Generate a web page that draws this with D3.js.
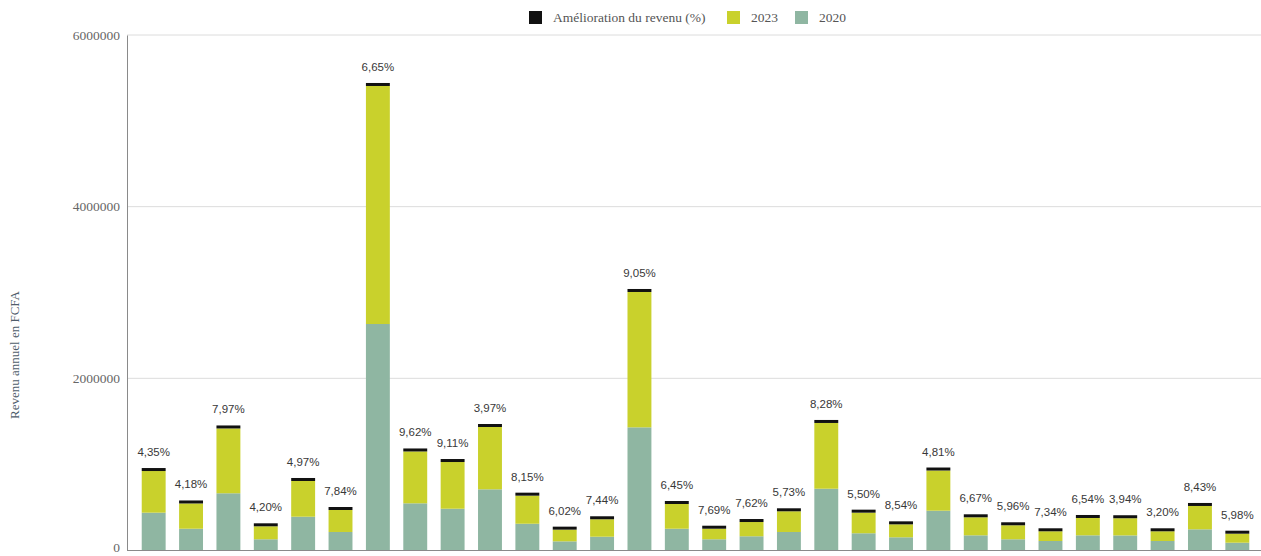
<!DOCTYPE html>
<html>
<head>
<meta charset="utf-8">
<script src="https://cdn.jsdelivr.net/npm/d3@7"></script>
<style>
  body { margin: 0; background: #fff; }
  svg { display: block; }
  .y.axis text { font-family: "Liberation Serif", serif; font-size: 13.5px; fill: #666; }
  .y.axis .domain { stroke: #8a8a8a; }
  .grid line { stroke: #dcdcdc; }
  .bar-label { font-family: "Liberation Sans", Arial, sans-serif; font-size: 11.5px; fill: #383838; }
  .legend text { font-family: "Liberation Serif", serif; font-size: 13.5px; fill: #555; }
</style>
</head>
<body>
<div id="chart"></div>
<script>
// one entry per bar, left to right
var categories = d3.range(1, 31).map(function(i){ return "B" + i; });

var rev2020 = [435000, 248000, 661000, 125000, 388000, 210000, 2633000, 544000, 481000, 707000,
               306000, 101000, 155000, 1429000, 248000, 125000, 160000, 210000, 714000, 195000,
               148000, 458000, 171000, 125000, 105000, 171000, 170000, 105000, 241000, 85000];

var rev2023 = [485000, 294000, 755000, 151000, 416000, 256000, 2773000, 604000, 544000, 726000,
               327000, 136000, 203000, 1577000, 288000, 123000, 166000, 241000, 766000, 240000,
               151000, 468000, 210000, 163000, 113000, 202000, 200000, 113000, 272000, 105000];

var improvement = [4.35, 4.18, 7.97, 4.20, 4.97, 7.84, 6.65, 9.62, 9.11, 3.97,
                   8.15, 6.02, 7.44, 9.05, 6.45, 7.69, 7.62, 5.73, 8.28, 5.50,
                   8.54, 4.81, 6.67, 5.96, 7.34, 6.54, 3.94, 3.20, 8.43, 5.98];

var yTicks = [0, 2000000, 4000000, 6000000];

var seriesNames = ["Amélioration du revenu (%)", "2023", "2020"];
var seriesColors = ["#111111", "#c9d12c", "#8fb6a2"];

var W = 1261, H = 556;
var plot = {left: 127, right: 1261, top: 35, bottom: 550};

var svg = d3.select("#chart").append("svg")
  .attr("width", W)
  .attr("height", H);

var x = d3.scaleBand()
  .domain(categories)
  .range([135, 1256])
  .paddingInner(0.36)
  .paddingOuter(0.18);

var y = d3.scaleLinear()
  .domain([0, 6000000])
  .range([plot.bottom, plot.top]);

// gridlines
svg.append("g")
  .attr("class", "grid")
  .selectAll("line")
  .data(yTicks.slice(1))
  .enter()
  .append("line")
    .attr("x1", plot.left)
    .attr("x2", plot.right)
    .attr("y1", function(d){ return y(d); })
    .attr("y2", function(d){ return y(d); });

var yAxis = d3.axisLeft(y)
  .tickValues(yTicks)
  .tickSize(0)
  .tickPadding(7)
  .tickFormat(d3.format("d"));

var yG = svg.append("g")
  .attr("class", "y axis")
  .attr("transform", "translate(" + plot.left + ",0)")
  .call(yAxis);

// keep the "0" inside the picture
yG.selectAll(".tick text")
  .filter(function(d){ return d === 0; })
  .attr("dy", "0.1em");

// data rows
var rows = categories.map(function(c, i){
  return {cat: c, v2020: rev2020[i], v2023: rev2023[i], pct: improvement[i]};
});

var bars = svg.append("g").selectAll("g")
  .data(rows)
  .enter()
  .append("g");

bars.append("rect")
  .attr("x", function(d){ return x(d.cat); })
  .attr("width", x.bandwidth())
  .attr("y", function(d){ return y(d.v2020); })
  .attr("height", function(d){ return y(0) - y(d.v2020); })
  .attr("fill", seriesColors[2]);

bars.append("rect")
  .attr("x", function(d){ return x(d.cat); })
  .attr("width", x.bandwidth())
  .attr("y", function(d){ return y(d.v2020 + d.v2023); })
  .attr("height", function(d){ return y(d.v2020) - y(d.v2020 + d.v2023); })
  .attr("fill", seriesColors[1]);

// thin black cap on top = improvement series
bars.append("rect")
  .attr("x", function(d){ return x(d.cat); })
  .attr("width", x.bandwidth())
  .attr("y", function(d){ return y(d.v2020 + d.v2023) - 3; })
  .attr("height", 3)
  .attr("fill", seriesColors[0]);

bars.append("text")
  .attr("class", "bar-label")
  .attr("x", function(d){ return x(d.cat) + x.bandwidth() / 2; })
  .attr("y", function(d){ return y(d.v2020 + d.v2023) - 15; })
  .attr("text-anchor", "middle")
  .text(function(d){ return d.pct.toFixed(2).replace(".", ",") + "%"; });

// baseline
svg.append("line")
  .attr("x1", plot.left)
  .attr("x2", plot.right)
  .attr("y1", y(0) + 0.5)
  .attr("y2", y(0) + 0.5)
  .attr("stroke", "#8a8a8a");

// y title
svg.append("text")
  .attr("transform", "translate(19,355) rotate(-90)")
  .attr("text-anchor", "middle")
  .style("font-family", "'Liberation Serif', serif")
  .style("font-size", "13px")
  .style("fill", "#4f5d6b")
  .text("Revenu annuel en FCFA");

// legend
var legendX = [529, 727, 795];
var legend = svg.append("g").attr("class", "legend")
  .selectAll("g")
  .data(seriesNames)
  .enter()
  .append("g")
    .attr("transform", function(d, i){ return "translate(" + legendX[i] + ",11)"; });

legend.append("rect")
  .attr("width", 13)
  .attr("height", 13)
  .attr("fill", function(d, i){ return seriesColors[i]; });

legend.append("text")
  .attr("x", 24)
  .attr("y", 11)
  .text(function(d){ return d; });
</script>
</body>
</html>
